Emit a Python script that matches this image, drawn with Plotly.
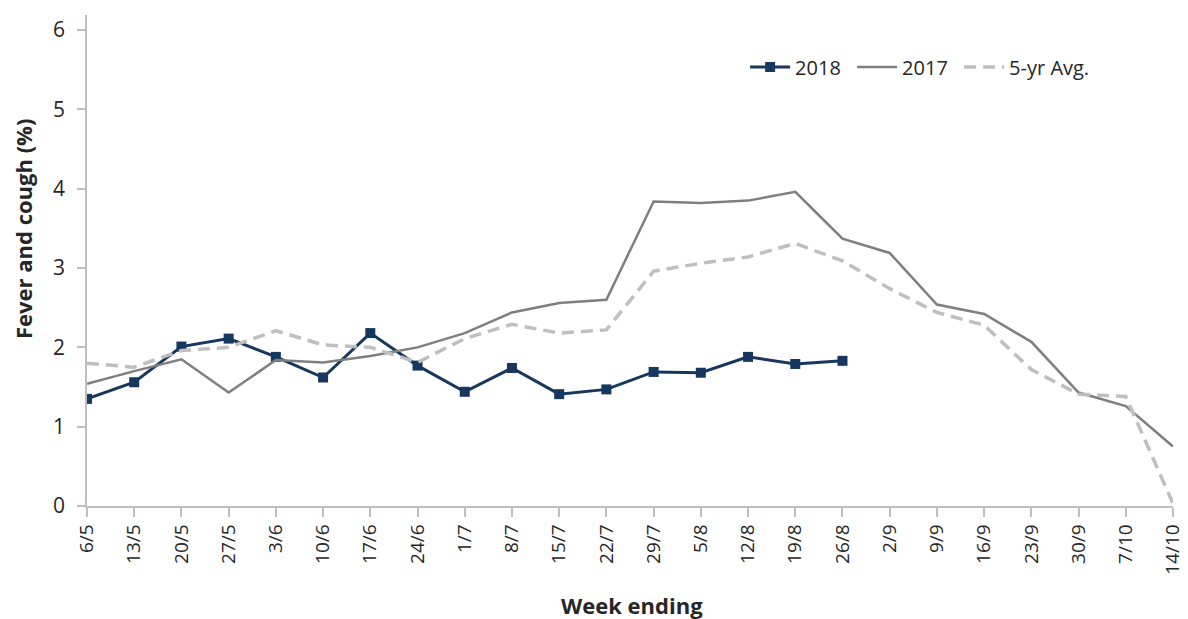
import plotly.graph_objects as go

weeks = ["6/5", "13/5", "20/5", "27/5", "3/6", "10/6", "17/6", "24/6", "1/7", "8/7",
         "15/7", "22/7", "29/7", "5/8", "12/8", "19/8", "26/8", "2/9", "9/9", "16/9",
         "23/9", "30/9", "7/10", "14/10"]

y2018 = [1.35, 1.56, 2.01, 2.11, 1.88, 1.62, 2.18, 1.77, 1.44, 1.74,
         1.41, 1.47, 1.69, 1.68, 1.88, 1.79, 1.83]

y2017 = [1.54, 1.70, 1.85, 1.43, 1.84, 1.81, 1.89, 2.00, 2.18, 2.44,
         2.56, 2.60, 3.84, 3.82, 3.85, 3.96, 3.37, 3.19, 2.54, 2.42,
         2.07, 1.43, 1.26, 0.75]

y5yr = [1.80, 1.75, 1.96, 2.00, 2.21, 2.03, 2.00, 1.81, 2.11, 2.29,
        2.18, 2.22, 2.96, 3.06, 3.14, 3.31, 3.09, 2.74, 2.44, 2.28,
        1.72, 1.41, 1.38, 0.03]

y_ticks = [0, 1, 2, 3, 4, 5, 6]

FONT = "Open Sans"
TXT = "#262626"
AX = "#BFBFBF"

fig = go.Figure()
fig.add_trace(go.Scatter(
    x=weeks[:len(y2018)], y=y2018, name="2018", mode="lines+markers",
    line=dict(color="#17375E", width=3),
    marker=dict(symbol="square", size=10, color="#17375E"),
    legendwidth=52,
))
fig.add_trace(go.Scatter(
    x=weeks, y=y2017, name="2017", mode="lines",
    line=dict(color="#7F7F7F", width=2.5),
    legendwidth=52,
))
fig.add_trace(go.Scatter(
    x=weeks, y=y5yr, name="5-yr Avg.", mode="lines",
    line=dict(color="#BFBFBF", width=3.5, dash="12px,7px"),
    legendwidth=95,
))

# page body has an 8px margin, so margins are offset to compensate
fig.update_layout(
    width=1188, height=619,
    margin=dict(l=79, r=23, t=7, b=121, autoexpand=False),
    paper_bgcolor="white", plot_bgcolor="white",
    font=dict(family=FONT, color=TXT),
    showlegend=True,
    legend=dict(orientation="h", x=0.606, y=0.894, xanchor="left", yanchor="middle",
                font=dict(size=20, family=FONT, color=TXT),
                bgcolor="rgba(0,0,0,0)", traceorder="normal", itemwidth=40,
                entrywidthmode="pixels"),
    xaxis=dict(
        type="category", range=[0, 23], showgrid=False, automargin=False,
        showline=True, linecolor=AX, linewidth=1.5,
        ticks="outside", ticklen=9, tickcolor=AX, tickwidth=1.5,
        tickangle=-90, tickfont=dict(size=19, family=FONT, color=TXT),
        zeroline=False,
    ),
    yaxis=dict(
        range=[0, 6.19], tickmode="array", tickvals=y_ticks,
        showgrid=False, zeroline=False, automargin=False,
        showline=True, linecolor=AX, linewidth=1.5,
        ticks="outside", ticklen=8, tickcolor=AX, tickwidth=1.5,
        tickfont=dict(size=21, family=FONT, color=TXT),
        ticklabelstandoff=8,
    ),
    annotations=[
        dict(text="<b>Week ending</b>", xref="paper", yref="paper",
             x=0.502, y=-0.2016, xanchor="center", yanchor="middle",
             showarrow=False, font=dict(size=22, family=FONT, color=TXT)),
        dict(text="<b>Fever and cough (%)</b>", xref="paper", yref="paper",
             x=-0.059, y=0.564, xanchor="center", yanchor="middle", textangle=-90,
             showarrow=False, font=dict(size=22, family=FONT, color=TXT)),
    ],
)

fig.write_html("out.html")
